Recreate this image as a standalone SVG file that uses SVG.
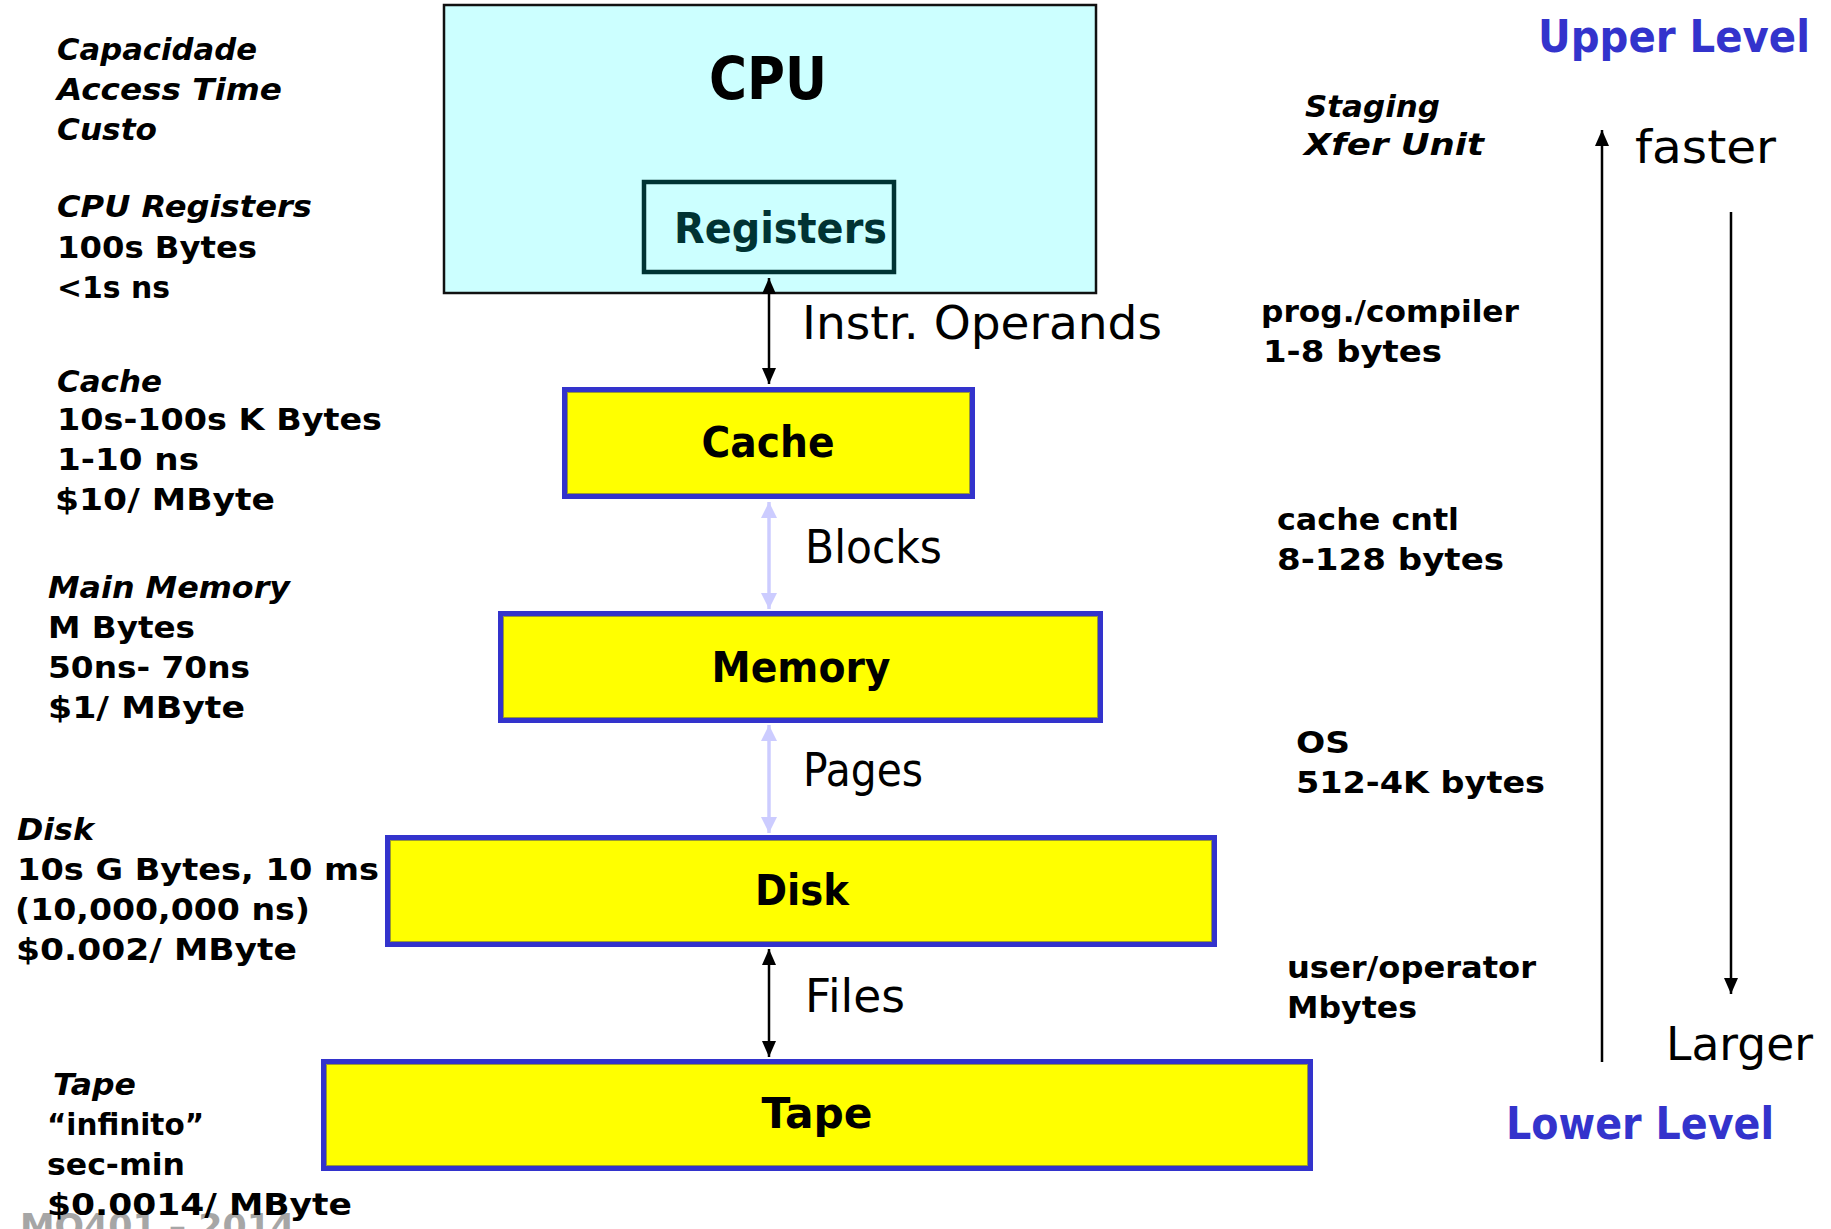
<svg xmlns="http://www.w3.org/2000/svg" width="1831" height="1229" viewBox="0 0 1831 1229">
<style>
text { font-family: "DejaVu Sans", "Liberation Sans", sans-serif; }
.t { font-size: 30px; font-weight: bold; fill: #000; }
.it { font-style: italic; }
.big { font-size: 46px; font-weight: normal; fill: #000; }
.node { font-size: 42px; font-weight: bold; fill: #000; text-anchor: middle; }
.level { font-size: 44px; font-weight: bold; fill: #3333CC; }
.box { fill: #FFFF00; stroke: #3333CC; stroke-width: 5; }
.inner { fill: none; stroke: #999933; stroke-width: 1; }
.blk { stroke: #000; stroke-width: 2.5; fill: none; }
.lav { stroke: #CCCCFF; stroke-width: 3.5; fill: none; }
.wm { font-size: 34px; font-weight: bold; fill: #A6A6A6; }
</style>
<defs>
<marker id="ah" markerUnits="userSpaceOnUse" markerWidth="16" markerHeight="14" refX="16" refY="7" orient="auto-start-reverse">
<path d="M0,0 L16,7 L0,14 z" fill="#000"/>
</marker>
<marker id="ahl" markerUnits="userSpaceOnUse" markerWidth="16" markerHeight="16" refX="16" refY="8" orient="auto-start-reverse">
<path d="M0,0 L16,8 L0,16 z" fill="#CCCCFF"/>
</marker>
</defs>
<rect width="1831" height="1229" fill="#fff"/>

<g id="cpu">
<rect x="444" y="5" width="652" height="288" fill="#CCFFFF" stroke="#111" stroke-width="2.5"/>
<text x="768" y="99" font-size="58" font-weight="bold" text-anchor="middle" textLength="118" lengthAdjust="spacingAndGlyphs">CPU</text>
</g>
<g id="registers">
<rect x="644" y="182" width="250" height="90" fill="#CCFFFF" stroke="#003333" stroke-width="4.5"/>
<text x="674" y="243" font-size="42" font-weight="bold" fill="#003333" textLength="213" lengthAdjust="spacingAndGlyphs">Registers</text>
</g>
<g id="cache">
<rect class="box" x="564.5" y="389.5" width="408" height="107"/>
<rect class="inner" x="567.5" y="392.5" width="402" height="101"/>
<text class="node" x="768" y="457" textLength="133" lengthAdjust="spacingAndGlyphs">Cache</text>
</g>
<g id="memory">
<rect class="box" x="500.5" y="613.5" width="600" height="107"/>
<rect class="inner" x="503.5" y="616.5" width="594" height="101"/>
<text class="node" x="801" y="682" textLength="179" lengthAdjust="spacingAndGlyphs">Memory</text>
</g>
<g id="disk">
<rect class="box" x="387.5" y="837.5" width="827" height="107"/>
<rect class="inner" x="390.5" y="840.5" width="821" height="101"/>
<text class="node" x="802" y="905" textLength="94" lengthAdjust="spacingAndGlyphs">Disk</text>
</g>
<g id="tape">
<rect class="box" x="323.5" y="1061.5" width="987" height="107"/>
<rect class="inner" x="326.5" y="1064.5" width="981" height="101"/>
<text class="node" x="817" y="1128" textLength="111" lengthAdjust="spacingAndGlyphs">Tape</text>
</g>

<g id="connectors">
<line class="blk" x1="769" y1="278" x2="769" y2="384" marker-start="url(#ah)" marker-end="url(#ah)"/>
<line class="lav" x1="769" y1="502" x2="769" y2="609" marker-start="url(#ahl)" marker-end="url(#ahl)"/>
<line class="lav" x1="769" y1="725" x2="769" y2="833" marker-start="url(#ahl)" marker-end="url(#ahl)"/>
<line class="blk" x1="769" y1="949" x2="769" y2="1057" marker-start="url(#ah)" marker-end="url(#ah)"/>
<line class="blk" x1="1602" y1="1062" x2="1602" y2="130" marker-end="url(#ah)"/>
<line class="blk" x1="1731" y1="212" x2="1731" y2="994" marker-end="url(#ah)"/>
</g>

<g id="connector-labels">
<text class="big" x="802" y="339" textLength="360" lengthAdjust="spacingAndGlyphs">Instr. Operands</text>
<text class="big" x="805" y="563" textLength="137" lengthAdjust="spacingAndGlyphs">Blocks</text>
<text class="big" x="803" y="786" textLength="120" lengthAdjust="spacingAndGlyphs">Pages</text>
<text class="big" x="805" y="1012" textLength="100" lengthAdjust="spacingAndGlyphs">Files</text>
</g>

<g id="left-labels">
<text class="t it" x="57" y="60" textLength="200" lengthAdjust="spacingAndGlyphs">Capacidade</text>
<text class="t it" x="57" y="100" textLength="225" lengthAdjust="spacingAndGlyphs">Access Time</text>
<text class="t it" x="57" y="140" textLength="100" lengthAdjust="spacingAndGlyphs">Custo</text>
<text class="t it" x="57" y="217" textLength="255" lengthAdjust="spacingAndGlyphs">CPU Registers</text>
<text class="t" x="57" y="258" textLength="200" lengthAdjust="spacingAndGlyphs">100s Bytes</text>
<text class="t" x="57" y="298" textLength="113" lengthAdjust="spacingAndGlyphs">&lt;1s ns</text>
<text class="t it" x="57" y="392" textLength="105" lengthAdjust="spacingAndGlyphs">Cache</text>
<text class="t" x="57" y="430" textLength="325" lengthAdjust="spacingAndGlyphs">10s-100s K Bytes</text>
<text class="t" x="57" y="470" textLength="142" lengthAdjust="spacingAndGlyphs">1-10 ns</text>
<text class="t" x="55" y="510" textLength="220" lengthAdjust="spacingAndGlyphs">$10/ MByte</text>
<text class="t it" x="48" y="598" textLength="242" lengthAdjust="spacingAndGlyphs">Main Memory</text>
<text class="t" x="48" y="638" textLength="147" lengthAdjust="spacingAndGlyphs">M Bytes</text>
<text class="t" x="48" y="678" textLength="202" lengthAdjust="spacingAndGlyphs">50ns- 70ns</text>
<text class="t" x="48" y="718" textLength="197" lengthAdjust="spacingAndGlyphs">$1/ MByte</text>
<text class="t it" x="17" y="840" textLength="77" lengthAdjust="spacingAndGlyphs">Disk</text>
<text class="t" x="17" y="880" textLength="362" lengthAdjust="spacingAndGlyphs">10s G Bytes, 10 ms</text>
<text class="t" x="15" y="920" textLength="295" lengthAdjust="spacingAndGlyphs">(10,000,000 ns)</text>
<text class="t" x="16" y="960" textLength="281" lengthAdjust="spacingAndGlyphs">$0.002/ MByte</text>
<text class="t it" x="53" y="1095" textLength="83" lengthAdjust="spacingAndGlyphs">Tape</text>
<text class="t" x="47" y="1135" textLength="157" lengthAdjust="spacingAndGlyphs">“infinito”</text>
<text class="t" x="47" y="1175" textLength="138" lengthAdjust="spacingAndGlyphs">sec-min</text>
<text class="wm" x="20" y="1238" textLength="275" lengthAdjust="spacingAndGlyphs">MO401 – 2014</text>
<text class="t" x="47" y="1215" textLength="305" lengthAdjust="spacingAndGlyphs">$0.0014/ MByte</text>
</g>

<g id="right-labels">
<text class="level" x="1538" y="52" textLength="272" lengthAdjust="spacingAndGlyphs">Upper Level</text>
<text class="t it" x="1305" y="117" textLength="135" lengthAdjust="spacingAndGlyphs">Staging</text>
<text class="t it" x="1304" y="155" textLength="180" lengthAdjust="spacingAndGlyphs">Xfer Unit</text>
<text class="big" x="1635" y="163" textLength="141" lengthAdjust="spacingAndGlyphs">faster</text>
<text class="t" x="1261" y="322" textLength="258" lengthAdjust="spacingAndGlyphs">prog./compiler</text>
<text class="t" x="1263" y="362" textLength="179" lengthAdjust="spacingAndGlyphs">1-8 bytes</text>
<text class="t" x="1277" y="530" textLength="182" lengthAdjust="spacingAndGlyphs">cache cntl</text>
<text class="t" x="1277" y="570" textLength="227" lengthAdjust="spacingAndGlyphs">8-128 bytes</text>
<text class="t" x="1296" y="753" textLength="54" lengthAdjust="spacingAndGlyphs">OS</text>
<text class="t" x="1296" y="793" textLength="249" lengthAdjust="spacingAndGlyphs">512-4K bytes</text>
<text class="t" x="1287" y="978" textLength="249" lengthAdjust="spacingAndGlyphs">user/operator</text>
<text class="t" x="1287" y="1018" textLength="130" lengthAdjust="spacingAndGlyphs">Mbytes</text>
<text class="big" x="1666" y="1060" textLength="147" lengthAdjust="spacingAndGlyphs">Larger</text>
<text class="level" x="1506" y="1139" textLength="268" lengthAdjust="spacingAndGlyphs">Lower Level</text>
</g>
</svg>
